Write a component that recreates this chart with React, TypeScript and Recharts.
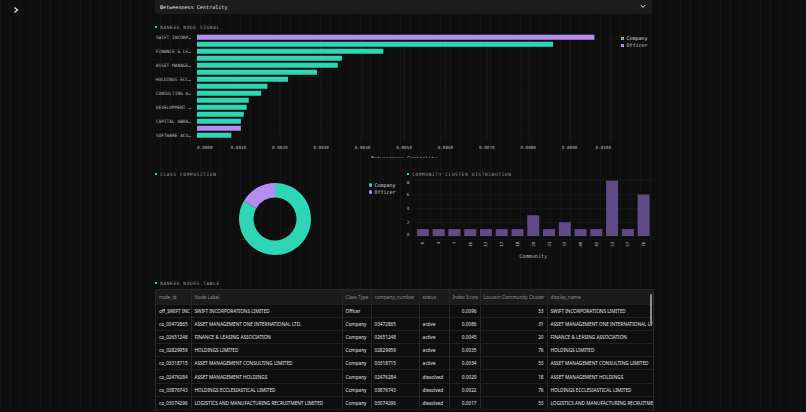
import React from "react";
import { BarChart, Bar, XAxis, YAxis, CartesianGrid, Cell, Legend, PieChart, Pie } from "recharts";

const TEAL = "#2fd6b5";
const VIOLET = "#b48cf2";
const CLUSTER = "#5f4b86";
const MONO = "'DejaVu Sans Mono', monospace";
const SANS = "'Noto Sans', sans-serif";
const TICK = "#b8bcb9";

// ranked node signal (betweenness)
const nodeNames = [
  "SWIFT INCORPORATIONS LIMITED",
  "ASSET MANAGEMENT ONE INTERNATIONAL LTD.",
  "FINANCE & LEASING ASSOCIATION",
  "HOLDINGS LIMITED",
  "ASSET MANAGEMENT CONSULTING LIMITED",
  "ASSET MANAGEMENT HOLDINGS",
  "HOLDINGS ECCLESIASTICAL LIMITED",
  "LOGISTICS AND MANUFACTURING RECRUITMENT LIMITED",
  "CONSULTING ASSOCIATES LIMITED",
  "CAPITAL PARTNERS LIMITED",
  "DEVELOPMENT HOLDINGS LIMITED",
  "TRADING SERVICES LIMITED",
  "CAPITAL ABRAHAMS LIMITED",
  "SECRETARIAL SERVICES LIMITED",
  "SOFTWARE ACQUISITIONS LIMITED",
];
const nodeClasses = [
  "Officer", "Company", "Company", "Company", "Company", "Company", "Company", "Company",
  "Company", "Company", "Company", "Company", "Company", "Officer", "Company",
];
const nodeScores = [
  0.0096, 0.0086, 0.0045, 0.0035, 0.0034, 0.0029, 0.0022, 0.0017,
  0.00155, 0.00125, 0.0012, 0.00113, 0.00106, 0.00106, 0.00083,
];
const scoreTicks = [0, 0.001, 0.002, 0.003, 0.004, 0.005, 0.006, 0.007, 0.008, 0.009, 0.01];

// class composition
const classNames = ["Company", "Officer"];
const classCounts = [25, 5];
const classColors = [TEAL, VIOLET];

// community cluster distribution
const communityIds = ["0", "4", "7", "10", "13", "17", "18", "20", "31", "33", "40", "45", "53", "57", "76"];
const communityCounts = [1, 1, 1, 1, 1, 1, 1, 3, 1, 2, 1, 1, 8, 1, 6];
const countTicks = [0, 2, 4, 6, 8];

// ranked nodes table
const tableColumns = [
  "node_id", "Node Label", "Class Type", "company_number", "status",
  "Index Score", "Louvain Community Cluster", "display_name",
];
const columnWidths = [35, 151, 29, 48, 30, 31, 67, 106];
const rightAligned = [false, false, false, false, false, true, true, false];
const rowIds = [
  "off_SWIFT INC", "co_03472865", "co_02651248", "co_02829959",
  "co_03318715", "co_02476284", "co_03876743", "co_03074296",
];
const rowLabels = nodeNames.slice(0, 8);
const rowClasses = nodeClasses.slice(0, 8);
const rowNumbers = ["", "03472865", "02651248", "02829959", "03318715", "02476284", "03876743", "03074296"];
const rowStatus = ["", "active", "active", "active", "active", "dissolved", "dissolved", "dissolved"];
const rowScores = nodeScores.slice(0, 8);
const rowClusters = [53, 31, 20, 76, 53, 18, 76, 53];

const rankedData = nodeNames.map((name, i) => ({ name, cls: nodeClasses[i], score: nodeScores[i] }));
const classData = classNames.map((name, i) => ({ name, count: classCounts[i] }));
const communityData = communityIds.map((id, i) => ({ id, count: communityCounts[i] }));

const truncate = (s: string) => (s.length > 12 ? s.slice(0, 12) + "…" : s);

function SectionTitle({ x, y, text }: { x: number; y: number; text: string }) {
  return (
    <div
      style={{
        position: "absolute", left: x, top: y - 3, height: 6, display: "flex", alignItems: "center",
        fontFamily: MONO, fontSize: 4.5, letterSpacing: 0.6, color: "#9ca29e", whiteSpace: "nowrap",
      }}
    >
      <span style={{ width: 2.2, height: 2.2, background: TEAL, marginRight: 3 }} />
      {text}
    </div>
  );
}

// first and last labels sit flush with the plot edges
function ScoreTick({ x, y, payload, index, visibleTicksCount }: any) {
  const anchor = index === 0 ? "start" : index === visibleTicksCount - 1 ? "end" : "middle";
  return (
    <text x={x} y={y + 8} textAnchor={anchor} dominantBaseline="central" fontFamily={MONO} fontSize={4.3} fill={TICK}>
      {Number(payload.value).toFixed(4)}
    </text>
  );
}

function NameTick({ x, y, payload }: any) {
  return (
    <text x={x} y={y} textAnchor="end" dominantBaseline="central" fontFamily={MONO} fontSize={4.5} fill={TICK}>
      {truncate(String(payload.value))}
    </text>
  );
}

function CountTick({ x, y, payload, index, visibleTicksCount }: any) {
  const dy = index === 0 ? 0 : index === visibleTicksCount - 1 ? 3.3 : 1.6;
  return (
    <text x={x} y={y + dy} textAnchor="end" fontFamily={MONO} fontSize={4.4} fill={TICK}>
      {payload.value}
    </text>
  );
}

function CommunityTick({ x, y, payload }: any) {
  return (
    <text
      transform={`translate(${x},${y + 5.5}) rotate(-90)`}
      textAnchor="end" dominantBaseline="central" fontFamily={MONO} fontSize={4.4} fill={TICK}
    >
      {payload.value}
    </text>
  );
}

function ClassLegend({ round }: { round: boolean }) {
  return (
    <div style={{ fontFamily: MONO, fontSize: 5, color: "#d6d8d6", lineHeight: "7px" }}>
      {classNames.map((name, i) => (
        <div key={name} style={{ display: "flex", alignItems: "center" }}>
          <span
            style={{
              width: 3.2, height: 3.2, marginRight: 2.2, background: classColors[i],
              borderRadius: round ? "50%" : 0,
            }}
          />
          {name}
        </div>
      ))}
    </div>
  );
}

function RankedSignal() {
  return (
    <div style={{ position: "absolute", left: 150, top: 30, width: 510, height: 128, overflow: "hidden" }}>
      <BarChart
        width={510}
        height={132}
        data={rankedData}
        layout="vertical"
        barCategoryGap="12%"
        margin={{ top: 4, right: 49, left: 5, bottom: 0 }}
      >
        <CartesianGrid horizontal={false} stroke="#1f201f" strokeWidth={0.7} />
        <XAxis
          type="number"
          dataKey="score"
          domain={[0, 0.01]}
          ticks={scoreTicks}
          interval={0}
          height={23}
          axisLine={false}
          tickLine={false}
          tickSize={0}
          tickMargin={0}
          tick={<ScoreTick />}
          label={(p: any) => (
            <text
              x={p.viewBox.x + p.viewBox.width / 2}
              y={p.viewBox.y + 19}
              textAnchor="middle"
              dominantBaseline="central"
              fontFamily={MONO}
              fontSize={5}
              fill={TICK}
            >
              Betweenness Centrality
            </text>
          )}
        />
        <YAxis
          type="category"
          dataKey="name"
          width={42}
          interval={1}
          axisLine={false}
          tickLine={false}
          tickSize={0}
          tickMargin={6}
          tick={<NameTick />}
        />
        <Legend
          layout="vertical"
          align="center"
          verticalAlign="middle"
          wrapperStyle={{ left: 471, top: 5, width: 40 }}
          content={() => <ClassLegend round={false} />}
        />
        <Bar dataKey="score" isAnimationActive={false}>
          {rankedData.map((d, i) => (
            <Cell key={i} fill={d.cls === "Officer" ? VIOLET : TEAL} />
          ))}
        </Bar>
      </BarChart>
    </div>
  );
}

function ClassComposition() {
  return (
    <div style={{ position: "absolute", left: 150, top: 176 }}>
      <PieChart width={250} height={90} margin={{ top: 0, right: 0, bottom: 0, left: 0 }}>
        <Pie
          data={classData}
          dataKey="count"
          nameKey="name"
          cx={125}
          cy={43}
          innerRadius={21.5}
          outerRadius={36}
          startAngle={90}
          endAngle={-270}
          stroke="none"
          isAnimationActive={false}
        >
          {classData.map((d, i) => (
            <Cell key={d.name} fill={classColors[i]} />
          ))}
        </Pie>
        <Legend
          layout="vertical"
          align="center"
          verticalAlign="middle"
          wrapperStyle={{ left: 219, top: 5.5, width: 40 }}
          content={() => <ClassLegend round />}
        />
      </PieChart>
    </div>
  );
}

function CommunityDistribution() {
  return (
    <div style={{ position: "absolute", left: 400, top: 176 }}>
      <BarChart
        width={256}
        height={84}
        data={communityData}
        barCategoryGap="12%"
        margin={{ top: 4.7, right: 4.5, left: 0, bottom: 0 }}
      >
        <CartesianGrid vertical={false} stroke="#1c1d1c" strokeWidth={0.7} />
        <XAxis
          dataKey="id"
          interval={0}
          height={24}
          axisLine={false}
          tickLine={false}
          tickSize={0}
          tickMargin={0}
          tick={<CommunityTick />}
          label={(p: any) => (
            <text
              x={p.viewBox.x + p.viewBox.width / 2}
              y={p.viewBox.y + 20}
              textAnchor="middle"
              dominantBaseline="central"
              fontFamily={MONO}
              fontSize={5.2}
              fill={TICK}
            >
              Community
            </text>
          )}
        />
        <YAxis
          type="number"
          domain={[0, 8]}
          ticks={countTicks}
          interval={0}
          width={15}
          axisLine={false}
          tickLine={false}
          tickSize={0}
          tickMargin={5.5}
          tick={<CountTick />}
        />
        <Bar dataKey="count" fill={CLUSTER} isAnimationActive={false} />
      </BarChart>
    </div>
  );
}

function RankedTable() {
  const cell = (i: number): React.CSSProperties => ({
    width: columnWidths[i],
    maxWidth: columnWidths[i],
    padding: "0 3px",
    overflow: "hidden",
    whiteSpace: "nowrap",
    textAlign: rightAligned[i] ? "right" : "left",
    borderRight: i < columnWidths.length - 1 ? "0.6px solid #262726" : "none",
    borderBottom: "0.6px solid #1e1f1e",
    boxSizing: "border-box",
  });
  return (
    <div
      style={{
        position: "absolute", left: 155, top: 289, width: 497, height: 130, overflow: "hidden",
        border: "0.6px solid #2a2b2a", borderRadius: 2, background: "#0d0e0d",
      }}
    >
      <table style={{ borderCollapse: "collapse", tableLayout: "fixed", fontFamily: SANS, fontSize: 4.7 }}>
        <thead>
          <tr style={{ height: 14, background: "#1a1b1a", color: "#8d918e" }}>
            {tableColumns.map((c, i) => (
              <th key={c} style={{ ...cell(i), fontWeight: 400 }}>{c}</th>
            ))}
          </tr>
        </thead>
        <tbody>
          {rowIds.map((id, r) => {
            const values = [
              id, rowLabels[r], rowClasses[r], rowNumbers[r], rowStatus[r],
              rowScores[r].toFixed(4), String(rowClusters[r]), rowLabels[r],
            ];
            return (
              <tr key={id} style={{ height: 13.2, color: "#e4e6e4" }}>
                {values.map((v, i) => (
                  <td key={i} style={cell(i)}>{v}</td>
                ))}
              </tr>
            );
          })}
        </tbody>
      </table>
      <div style={{ position: "absolute", left: 494, top: 4, width: 1.6, height: 32, borderRadius: 1, background: "#8a8c8a" }} />
    </div>
  );
}

export default function App() {
  return (
    <div
      style={{
        position: "absolute", left: 0, top: 0, width: 806, height: 412, overflow: "hidden",
        backgroundColor: "#0d0e0d",
        backgroundImage:
          "linear-gradient(90deg, rgba(255,255,255,0.022) 1px, transparent 1px), linear-gradient(0deg, rgba(255,255,255,0.012) 1px, transparent 1px)",
        backgroundSize: "10px 10px",
      }}
    >
      <svg style={{ position: "absolute", left: 12, top: 6 }} width={8} height={8}>
        <polyline points="2.5,1.5 5.5,4 2.5,6.5" fill="none" stroke="#e8e8e8" strokeWidth={1.3} />
      </svg>

      <div
        style={{
          position: "absolute", left: 155, top: 0, width: 497, height: 13.5, background: "#1b1c1b",
          borderRadius: "0 0 3px 3px", fontFamily: MONO, fontSize: 5.1, color: "#e8e9e8",
          display: "flex", alignItems: "center", paddingLeft: 5, boxSizing: "border-box",
        }}
      >
        Betweenness Centrality
        <svg style={{ position: "absolute", left: 485, top: 4 }} width={6} height={5}>
          <polyline points="1,1.2 3,3.4 5,1.2" fill="none" stroke="#e8e8e8" strokeWidth={1} />
        </svg>
      </div>

      <SectionTitle x={155} y={27} text="RANKED NODE SIGNAL" />
      <RankedSignal />

      <SectionTitle x={155} y={174} text="CLASS COMPOSITION" />
      <ClassComposition />

      <SectionTitle x={407} y={174} text="COMMUNITY CLUSTER DISTRIBUTION" />
      <CommunityDistribution />

      <SectionTitle x={155} y={283} text="RANKED NODES TABLE" />
      <RankedTable />
    </div>
  );
}
